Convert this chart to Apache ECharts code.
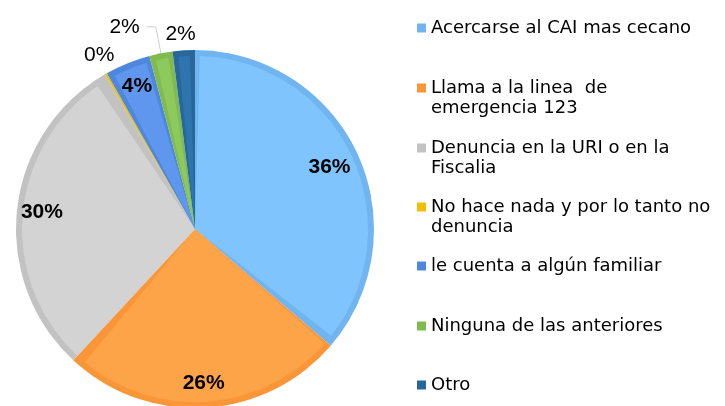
<!DOCTYPE html>
<html>
<head>
<meta charset="utf-8">
<script src="https://cdn.jsdelivr.net/npm/echarts@6/dist/echarts.min.js"></script>
<style>
  html, body { margin: 0; padding: 0; background: #fff; }
  #chart { width: 725px; height: 406px; }
</style>
</head>
<body>
<div id="chart"></div>
<script>
// datos
const categories = [
    'Acercarse al CAI mas cecano',
    'Llama a la linea  de\nemergencia 123',
    'Denuncia en la URI o en la\nFiscalia',
    'No hace nada y por lo tanto no\ndenuncia',
    'le cuenta a algún familiar',
    'Ninguna de las anteriores',
    'Otro'
];
const values = [36.3, 25.6, 29.7, 0.2, 4.1, 2.1, 2.0];

const fills = ['#80c4fe', '#fda448', '#d3d3d3', '#ffd500', '#5f97ef', '#8ec95d', '#2e75ad'];
const borders = ['#70b5f0', '#fb9638', '#c2c2c2', '#f0c000', '#4f86de', '#7fbb4f', '#27679b'];
// donde va cada etiqueta: 'out', 'near' (anillo interno) o 'far'
const labelPlace = ['near', 'far', 'far', 'out', 'far', 'out', 'out'];

const legendIconY = [28, 88, 148, 207, 266, 326, 385];

const CENTER = [195, 229];
const R = 179;
const FONT = 'Liberation Sans, Arial';

const chart = echarts.init(document.getElementById('chart'));

// serie base: color oscuro (borde)
const baseData = categories.map((name, i) => {
    const item = {
        name: name,
        value: values[i],
        itemStyle: { color: borders[i] }
    };
    if (labelPlace[i] === 'out') {
        item.label = { show: true, position: 'outside' };
    }
    return item;
});
// ajustes de las etiquetas externas
baseData[3].label.distanceToLabelLine = -19;
baseData[3].labelLine = { show: false, length: 21, length2: 0 };
baseData[5].label.distanceToLabelLine = 7;
baseData[5].label.padding = [0, 0, 11, 0];
baseData[5].labelLine = { show: true, length: 27, length2: 9, lineStyle: { color: '#cfcfcf', width: 1 } };
baseData[6].label.distanceToLabelLine = -13;
baseData[6].labelLine = { show: false, length: 16, length2: 0 };

// relleno claro, separado del borde
const fillData = categories.map((name, i) => ({
    name: name,
    value: values[i],
    itemStyle: { color: fills[i] }
}));

function labelData(place) {
    return categories.map((name, i) => ({
        name: name,
        value: values[i],
        itemStyle: { color: 'rgba(0,0,0,0)' },
        label: { show: labelPlace[i] === place }
    }));
}

const labelSeries = (radius, place) => ({
    type: 'pie',
    center: CENTER,
    radius: radius,
    startAngle: 90,
    percentPrecision: 0,
    silent: true,
    avoidLabelOverlap: false,
    label: {
        position: 'inside',
        formatter: '{d}%',
        fontFamily: FONT,
        fontSize: 21,
        fontWeight: 'bold',
        color: '#000',
        padding: [5, 0, 0, 0]
    },
    labelLine: { show: false },
    data: labelData(place)
});

// leyenda: el cuadro queda a la altura de la primera linea
const legends = categories.map((name, i) => {
    const twoLines = name.indexOf('\n') >= 0;
    return {
        data: [name],
        orient: 'vertical',
        left: 417,
        top: legendIconY[i] - 10,
        padding: 0,
        icon: twoLines ? 'path://M0,0h9v9h-9zM0,29h9z' : 'rect',
        itemWidth: 9,
        itemHeight: twoLines ? 29 : 9,
        selectedMode: false,
        itemStyle: { color: borders[i], borderWidth: 0 },
        textStyle: {
            fontFamily: 'DejaVu Sans',
            fontSize: 18,
            lineHeight: 20,
            color: '#000'
        }
    };
});

chart.setOption({
    animation: false,
    legend: legends,
    series: [
        {
            type: 'pie',
            center: CENTER,
            radius: R,
            startAngle: 90,
            percentPrecision: 0,
            avoidLabelOverlap: false,
            label: {
                show: false,
                formatter: '{d}%',
                fontFamily: FONT,
                fontSize: 21,
                color: '#000'
            },
            labelLine: { show: false },
            emphasis: { disabled: true },
            data: baseData
        },
        {
            type: 'pie',
            center: CENTER,
            radius: R - 6,
            startAngle: 90,
            padAngle: 3.3,
            silent: true,
            label: { show: false },
            labelLine: { show: false },
            data: fillData
        },
        labelSeries([R - 68, R], 'near'),
        labelSeries([R - 56, R], 'far')
    ]
});
</script>
</body>
</html>
